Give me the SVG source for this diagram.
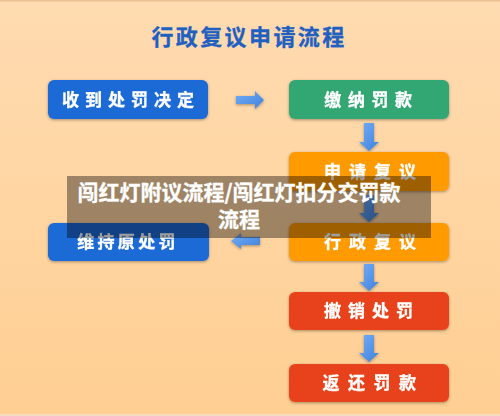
<svg xmlns="http://www.w3.org/2000/svg" width="500" height="416" viewBox="0 0 500 416">
<defs>
<linearGradient id="bg" x1="0" y1="0" x2="0" y2="1">
<stop offset="0" stop-color="#FFDBB1"/>
<stop offset="1" stop-color="#FFCF93"/>
</linearGradient>
<linearGradient id="arr" x1="0" y1="0" x2="1" y2="1">
<stop offset="0" stop-color="#74ADF6"/>
<stop offset="1" stop-color="#3F82DE"/>
</linearGradient>
<filter id="sh" x="-10%" y="-20%" width="120%" height="150%">
<feDropShadow dx="0" dy="1" stdDeviation="1.5" flood-color="#000" flood-opacity="0.35"/>
</filter>
</defs>
<style>
.node{filter:url(#sh)}
.lbl{font-family:"Noto Sans CJK SC","Noto Sans",sans-serif;font-weight:bold;font-size:17px;fill:#fff;stroke:#fff;stroke-width:0.35px;text-anchor:middle}
.arrow{fill:url(#arr);filter:url(#sh)}
.title{font-family:"Noto Sans CJK SC","Noto Sans",sans-serif;font-weight:bold;font-size:22px;fill:#1F60C0;stroke:#1F60C0;stroke-width:0.3px;text-anchor:middle;letter-spacing:2.4px}
.ov{font-family:"Noto Sans CJK SC","Noto Sans",sans-serif;font-weight:bold;font-size:21px;fill:#fff;stroke:#fff;stroke-width:0.3px;text-anchor:middle}
</style>
<rect x="0" y="0" width="500" height="416" fill="url(#bg)"/>
<rect x="0" y="0" width="500" height="1.5" fill="#E9C18F"/>
<rect x="0" y="414" width="500" height="2" fill="#F3DDBD"/>
<text class="title" x="249" y="45">行政复议申请流程</text>

<g id="connectors">
<polygon class="arrow" points="236,96 255,96 255,91 264,100 255,109 255,104 236,104"/>
<polygon class="arrow" points="364,123 374,123 374,142 379,142 369,151 359,142 364,142"/>
<polygon class="arrow" points="364,195 374,195 374,213 379,213 369,222 359,213 364,213"/>
<polygon class="arrow" points="364,264 374,264 374,282 379,282 369,291 359,282 364,282"/>
<polygon class="arrow" points="364,335 374,335 374,353 379,353 369,362 359,353 364,353"/>
<polygon class="arrow" points="260,237 241,237 241,233 231,241 241,249 241,245 260,245"/>
</g>

<g id="n1" class="node">
<rect x="48" y="80" width="160" height="39" rx="6" fill="#1C6AD6"/>
<text class="lbl" x="131" y="106" style="letter-spacing:6px">收到处罚决定</text>
</g>
<g id="n2" class="node">
<rect x="289" y="80" width="160" height="39" rx="6" fill="#33A673"/>
<text class="lbl" x="371.5" y="106" style="letter-spacing:6.6px">缴纳罚款</text>
</g>
<g id="n3" class="node">
<rect x="289" y="152" width="160" height="39" rx="6" fill="#FF9A00"/>
<text class="lbl" x="374" y="178" style="letter-spacing:8px">申请复议</text>
</g>
<g id="n4" class="node">
<rect x="289" y="223" width="160" height="38" rx="6" fill="#FF9A00"/>
<text class="lbl" x="374" y="248" style="letter-spacing:8px">行政复议</text>
</g>
<g id="n5" class="node">
<rect x="48" y="223" width="161" height="38" rx="6" fill="#1C6AD6"/>
<text class="lbl" x="128" y="248" style="letter-spacing:3.3px">维持原处罚</text>
</g>
<g id="n6" class="node">
<rect x="289" y="292" width="160" height="38" rx="6" fill="#E8431A"/>
<text class="lbl" x="372" y="317" style="letter-spacing:7px">撤销处罚</text>
</g>
<g id="n7" class="node">
<rect x="289" y="364" width="160" height="38" rx="6" fill="#E8431A"/>
<text class="lbl" x="373.5" y="389" style="letter-spacing:8.5px">返还罚款</text>
</g>

<g id="overlay">
<rect x="67" y="176" width="364" height="62" fill="#000" fill-opacity="0.38"/>
<text class="ov" x="239" y="200">闯红灯附议流程/闯红灯扣分交罚款</text>
<text class="ov" x="239" y="227">流程</text>
</g>
</svg>
